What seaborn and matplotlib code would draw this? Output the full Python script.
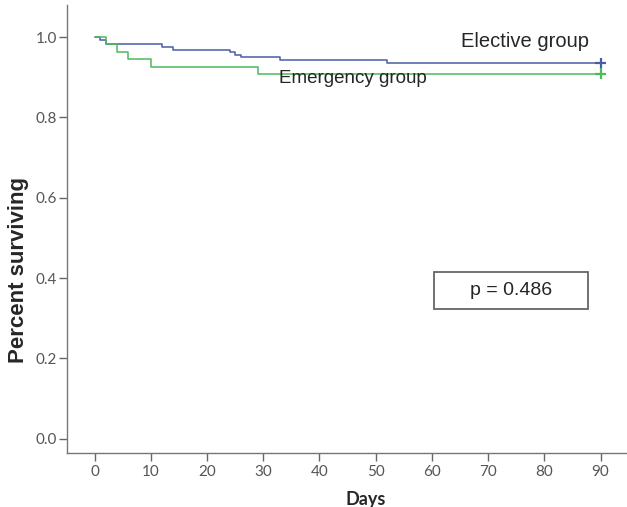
import matplotlib
matplotlib.use("Agg")
import matplotlib.pyplot as plt
import seaborn as sns
import pandas as pd
from matplotlib.patches import Rectangle

# Kaplan-Meier steps
elective_days = [0, 1, 2, 12, 14, 24, 25, 26, 33, 52, 90]
elective_surv = [1.0, 0.992, 0.983, 0.976, 0.969, 0.963, 0.956, 0.950, 0.943, 0.936, 0.936]
emergency_days = [0, 2, 4, 6, 10, 29, 90]
emergency_surv = [1.0, 0.982, 0.964, 0.945, 0.927, 0.909, 0.909]
groups = ["Elective group", "Emergency group"]
p_text = "p = 0.486"
x_ticks = [0, 10, 20, 30, 40, 50, 60, 70, 80, 90]
y_ticks = [0.0, 0.2, 0.4, 0.6, 0.8, 1.0]

curves = pd.concat([
    pd.DataFrame({"days": elective_days, "surv": elective_surv, "group": groups[0]}),
    pd.DataFrame({"days": emergency_days, "surv": emergency_surv, "group": groups[1]}),
])
censored = pd.DataFrame({
    "days": [elective_days[-1], emergency_days[-1]],
    "surv": [elective_surv[-1], emergency_surv[-1]],
    "group": groups,
})

sns.set_style("white")
palette = {groups[0]: "#4a5ca8", groups[1]: "#4cbb5a"}

fig = plt.figure(figsize=(6.27, 5.07), dpi=100)
ax = fig.add_axes([0.107, 0.107, 0.893, 0.883])

sns.lineplot(data=curves, x="days", y="surv", hue="group", palette=palette,
             estimator=None, drawstyle="steps-post", linewidth=1.1, legend=False, ax=ax)
sns.scatterplot(data=censored, x="days", y="surv", hue="group", palette=palette,
                marker="+", s=60, linewidth=1.6, legend=False, ax=ax, zorder=3)

ax.set_xlim(-4.9, 94.7)
ax.set_ylim(-0.035, 1.08)
ax.set_xticks(x_ticks)
ax.set_yticks(y_ticks)
ax.set_yticklabels([f"{v:.1f}" for v in y_ticks])

for side in ["top", "right"]:
    ax.spines[side].set_visible(False)
for side in ["left", "bottom"]:
    ax.spines[side].set_color("#777777")
    ax.spines[side].set_linewidth(1.0)
ax.tick_params(axis="both", which="major", bottom=True, left=True, direction="out",
               length=6, width=1.0, color="#666666", labelcolor="#555555",
               labelsize=11, pad=1)
ax.tick_params(axis="x", pad=3)
for lab in ax.get_xticklabels() + ax.get_yticklabels():
    lab.set_family("Lato")

ax.set_xlabel("Days", fontsize=13, fontweight="bold", family="Lato")
ax.set_ylabel("Percent surviving", fontsize=16, fontweight="bold", family="Liberation Sans")
ax.xaxis.set_label_coords(0.534, -0.085)
ax.yaxis.set_label_coords(-0.068, 0.408)

ax.text(65.2, 0.990, groups[0], fontsize=14.5, family="Liberation Sans", va="center", ha="left")
ax.text(32.8, 0.896, groups[1], fontsize=13.5, family="Liberation Sans", va="center", ha="left")

ax.add_patch(Rectangle((60.3, 0.323), 27.4, 0.092, fill=False, edgecolor="#666666", linewidth=1.3))
ax.text(74.0, 0.369, p_text, fontsize=14, family="Liberation Sans", va="center", ha="center")

fig.savefig("out.png", dpi=100)
